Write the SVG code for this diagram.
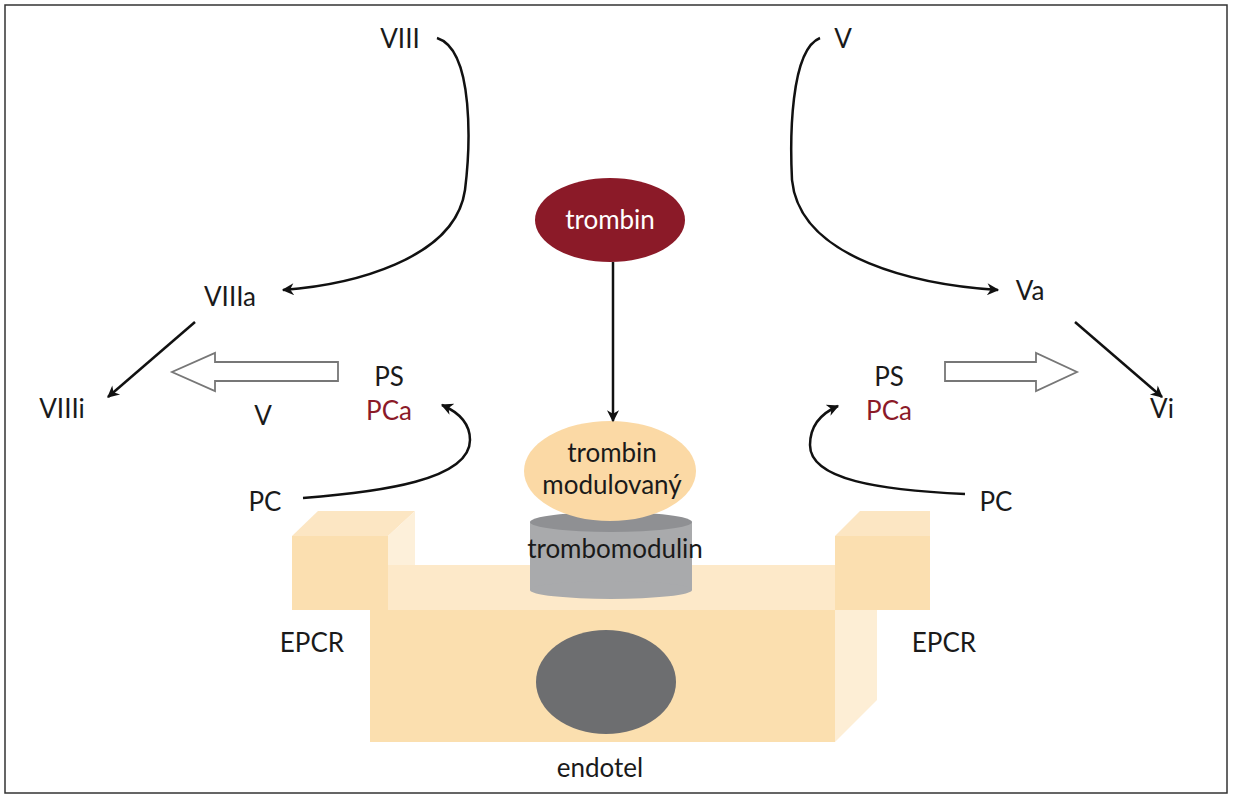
<svg xmlns="http://www.w3.org/2000/svg" width="1233" height="800" viewBox="0 0 1233 800">
<defs>
<marker id="ah" viewBox="0 0 10 10" refX="9" refY="5" markerWidth="14" markerHeight="12" orient="auto-start-reverse" markerUnits="userSpaceOnUse"><path d="M0,0 L10,5 L0,10 L3,5 z" fill="#111"/></marker>
<style>
text{font-family:Lato,"Open Sans","Liberation Sans",sans-serif;font-size:26px;fill:#1a1a1a;text-anchor:middle}
.red{fill:#8b1a28}
.c{fill:none;stroke:#111;stroke-width:2.5;marker-end:url(#ah)}
.h{fill:#fff;stroke:#777;stroke-width:1.8}
</style>
</defs>
<rect width="1233" height="800" fill="#fff"/>
<rect x="5" y="5" width="1222" height="788" fill="none" stroke="#333" stroke-width="1.5"/>
<g id="endotel">
<polygon points="292,536 318,511 415,511 388,536" fill="#fce6c3"/>
<polygon points="388,536 415,511 415,585 388,610" fill="#fdf0da"/>
<rect x="292" y="536" width="96" height="74" fill="#fbdfb0"/>
<rect x="388" y="565" width="447" height="45" fill="#fde9c9"/>
<rect x="370" y="610" width="465" height="132" fill="#fbdfaf"/>
<polygon points="835,610 877,568 877,700 835,742" fill="#fdeed5"/>
<polygon points="835,536 860,511 930,511 930,536" fill="#fce6c3"/>
<rect x="835" y="536" width="95" height="74" fill="#fbdfb0"/>
<ellipse cx="606" cy="682" rx="70" ry="52" fill="#6d6e70"/>
<text x="600" y="777">endotel</text>
</g>
<g id="trombomodulin">
<rect x="530" y="522" width="162" height="68" fill="#a9aaac"/>
<ellipse cx="611" cy="590" rx="81" ry="9" fill="#a9aaac"/>
<ellipse cx="611" cy="522" rx="81" ry="10" fill="#8f9093"/>
<text x="615" y="558">trombomodulin</text>
</g>
<g id="trombin-mod">
<ellipse cx="610" cy="471" rx="86" ry="50" fill="#fbd9a5"/>
<text x="612" y="462">trombin</text>
<text x="612" y="494">modulovaný</text>
</g>
<g id="trombin">
<ellipse cx="610" cy="220" rx="75" ry="42" fill="#8b1a28"/>
<text x="610" y="229" style="fill:#fff">trombin</text>
</g>
<g id="labels">
<text x="400" y="48">VIII</text>
<text x="230" y="306">VIIIa</text>
<text x="62" y="418">VIIIi</text>
<text x="263" y="425">V</text>
<text x="389" y="386">PS</text>
<text x="389" y="420" class="red">PCa</text>
<text x="265" y="511">PC</text>
<text x="312" y="652">EPCR</text>
<text x="843" y="48">V</text>
<text x="1030" y="300">Va</text>
<text x="1162" y="418">Vi</text>
<text x="889" y="386">PS</text>
<text x="889" y="420" class="red">PCa</text>
<text x="996" y="511">PC</text>
<text x="944" y="652">EPCR</text>
</g>
<g id="connectors">
<line x1="613" y1="262" x2="613" y2="421" class="c"/>
<path d="M437,38 C475,50 470,150 465,190 C455,260 350,285 283,290" class="c"/>
<line x1="195" y1="322" x2="108" y2="397" class="c"/>
<path d="M303,498 C380,492 470,480 470,440 C470,422 458,412 442,405" class="c"/>
<path d="M820,38 C790,50 790,140 792,180 C800,260 920,285 998,290" class="c"/>
<line x1="1075" y1="322" x2="1162" y2="397" class="c"/>
<path d="M965,494 C880,490 810,480 810,445 C810,425 822,413 838,406" class="c"/>
<polygon points="338,362 215,362 215,353 172,372 215,391 215,381 338,381" class="h"/>
<polygon points="945,362 1036,362 1036,353 1077,372 1036,391 1036,381 945,381" class="h"/>
</g>
</svg>
